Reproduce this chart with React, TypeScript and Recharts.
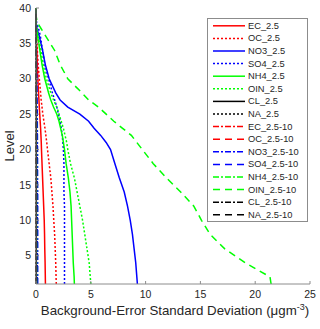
import { LineChart, Line, XAxis, YAxis, Legend } from 'recharts'

// model levels (y) and background-error std dev per species (x, µg m^-3)
const LEVELS = [1, 2, 4, 6, 8, 10, 12, 14, 16, 18, 20, 21, 22, 23, 24, 25, 26, 27, 28, 30, 32, 34, 36, 37, 38, 39, 40]

const EC_25 = [0.86, 0.85, 0.83, 0.8, 0.78, 0.75, 0.7, 0.65, 0.6, 0.55, 0.5, 0.48, 0.45, 0.42, 0.38, 0.34, 0.3, 0.27, 0.23, 0.17, 0.12, 0.08, 0.03, 0, 0, 0, 0]
const OC_25 = [1.85, 1.83, 1.8, 1.75, 1.7, 1.62, 1.55, 1.45, 1.35, 1.2, 1.05, 0.98, 0.9, 0.82, 0.72, 0.62, 0.55, 0.47, 0.42, 0.3, 0.2, 0.12, 0.05, 0.02, 0, 0, 0]
const NO3_25 = [9.25, 9.2, 9.1, 8.95, 8.8, 8.6, 8.35, 8.05, 7.6, 7.2, 6.8, 6.4, 5.9, 5.3, 4.8, 4.0, 2.9, 2.2, 1.8, 1.2, 0.85, 0.6, 0.3, 0.1, 0, 0, 0]
const SO4_25 = [2.6, 2.6, 2.6, 2.6, 2.6, 2.6, 2.6, 2.55, 2.55, 2.55, 2.5, 2.45, 2.4, 2.3, 2.2, 2.05, 1.9, 1.7, 1.5, 1.15, 0.8, 0.6, 0.4, 0.25, 0.05, 0, 0]
const NH4_25 = [3.5, 3.48, 3.4, 3.35, 3.3, 3.25, 3.2, 3.1, 2.95, 2.75, 2.6, 2.5, 2.4, 2.25, 2.1, 1.9, 1.6, 1.35, 1.15, 0.8, 0.55, 0.35, 0.15, 0.05, 0, 0, 0]
const OIN_25 = [5.0, 4.95, 4.85, 4.65, 4.45, 4.25, 4.0, 3.75, 3.5, 3.15, 2.9, 2.8, 2.65, 2.5, 2.3, 2.1, 1.9, 1.6, 1.35, 0.95, 0.65, 0.45, 0.2, 0.1, 0, 0, 0]
const CL_25 = [0.03, 0.03, 0.03, 0.03, 0.03, 0.03, 0.03, 0.03, 0.03, 0.03, 0.03, 0.03, 0.03, 0.03, 0.03, 0.03, 0.02, 0.02, 0.02, 0.02, 0.02, 0.01, 0.01, 0, 0, 0, 0]
const NA_25 = [0.02, 0.02, 0.02, 0.02, 0.02, 0.02, 0.02, 0.02, 0.02, 0.02, 0.02, 0.02, 0.02, 0.02, 0.02, 0.02, 0.02, 0.01, 0.01, 0.01, 0.01, 0.01, 0, 0, 0, 0, 0]
const EC_10 = [0.02, 0.02, 0.02, 0.02, 0.02, 0.02, 0.02, 0.02, 0.02, 0.02, 0.02, 0.02, 0.02, 0.02, 0.01, 0.01, 0.01, 0.01, 0.01, 0.01, 0.01, 0, 0, 0, 0, 0, 0]
const OC_10 = [0.06, 0.06, 0.06, 0.06, 0.06, 0.06, 0.06, 0.05, 0.05, 0.05, 0.05, 0.05, 0.05, 0.04, 0.04, 0.04, 0.04, 0.03, 0.03, 0.02, 0.02, 0.01, 0.01, 0, 0, 0, 0]
const NO3_10 = [0.15, 0.15, 0.15, 0.15, 0.15, 0.15, 0.15, 0.15, 0.14, 0.14, 0.14, 0.13, 0.13, 0.12, 0.12, 0.11, 0.1, 0.09, 0.08, 0.06, 0.04, 0.03, 0.01, 0, 0, 0, 0]
const SO4_10 = [0.12, 0.12, 0.12, 0.12, 0.12, 0.12, 0.12, 0.12, 0.11, 0.11, 0.11, 0.1, 0.1, 0.1, 0.09, 0.09, 0.08, 0.07, 0.06, 0.05, 0.03, 0.02, 0.01, 0, 0, 0, 0]
const NH4_10 = [0.05, 0.05, 0.05, 0.05, 0.05, 0.05, 0.05, 0.05, 0.05, 0.05, 0.04, 0.04, 0.04, 0.04, 0.04, 0.03, 0.03, 0.03, 0.03, 0.02, 0.02, 0.01, 0.01, 0, 0, 0, 0]
const OIN_10 = [21.45, 21.35, 19.1, 17.2, 15.9, 15.1, 14.4, 13.2, 11.9, 10.7, 9.7, 9.2, 8.7, 7.9, 7.1, 6.4, 5.7, 4.8, 4.2, 2.9, 2.2, 1.7, 0.9, 0.5, 0.1, 0, 0]
const CL_10 = [0.01, 0.01, 0.01, 0.01, 0.01, 0.01, 0.01, 0.01, 0.01, 0.01, 0.01, 0.01, 0.01, 0.01, 0.01, 0.01, 0.01, 0.01, 0.01, 0, 0, 0, 0, 0, 0, 0, 0]
const NA_10 = [0.04, 0.04, 0.04, 0.04, 0.04, 0.04, 0.04, 0.04, 0.04, 0.04, 0.04, 0.03, 0.03, 0.03, 0.03, 0.03, 0.03, 0.02, 0.02, 0.02, 0.01, 0.01, 0, 0, 0, 0, 0]

const X_TICKS = [0, 5, 10, 15, 20, 25]
const Y_TICKS = [5, 10, 15, 20, 25, 30, 35, 40]

const RED = '#ff0000', BLUE = '#0000ff', GREEN = '#00ff00', BLACK = '#000000'
const DOT = '2 2', DASH = '7 5', DASHDOT = '6 2 2 2'

const SERIES = [
  { name: 'EC_2.5', values: EC_25, color: RED, dash: undefined },
  { name: 'OC_2.5', values: OC_25, color: RED, dash: DOT },
  { name: 'NO3_2.5', values: NO3_25, color: BLUE, dash: undefined },
  { name: 'SO4_2.5', values: SO4_25, color: BLUE, dash: DOT },
  { name: 'NH4_2.5', values: NH4_25, color: GREEN, dash: undefined },
  { name: 'OIN_2.5', values: OIN_25, color: GREEN, dash: DOT },
  { name: 'CL_2.5', values: CL_25, color: BLACK, dash: undefined },
  { name: 'NA_2.5', values: NA_25, color: BLACK, dash: DOT },
  { name: 'EC_2.5-10', values: EC_10, color: RED, dash: DASHDOT },
  { name: 'OC_2.5-10', values: OC_10, color: RED, dash: DASH },
  { name: 'NO3_2.5-10', values: NO3_10, color: BLUE, dash: DASHDOT },
  { name: 'SO4_2.5-10', values: SO4_10, color: BLUE, dash: DASH },
  { name: 'NH4_2.5-10', values: NH4_10, color: GREEN, dash: DASHDOT },
  { name: 'OIN_2.5-10', values: OIN_10, color: GREEN, dash: DASH },
  { name: 'CL_2.5-10', values: CL_10, color: BLACK, dash: DASHDOT },
  { name: 'NA_2.5-10', values: NA_10, color: BLACK, dash: DASH },
]

const FONT = '"Liberation Sans", Arial, sans-serif'
const AXIS = '#8c8c8c'
const TXT = '#262626'

const rows = LEVELS.map((level, i) => {
  const r: Record<string, number> = { level }
  for (const s of SERIES) r[s.name] = s.values[i]
  return r
})

function LegendBox() {
  const rowH = 12.6
  return (
    <div style={{ width: 101, height: 204, boxSizing: 'border-box', border: `1px solid ${AXIS}`, background: '#fff' }}>
      <svg width={99} height={202} style={{ display: 'block' }}>
        {SERIES.map((s, i) => {
          const y = 6.8 + i * rowH
          return (
            <g key={s.name}>
              <line x1={5} x2={37} y1={y} y2={y} stroke={s.color} strokeWidth={1.5} strokeDasharray={s.dash} />
              <text x={40} y={y} dominantBaseline="central" fontSize={9.3} fill={TXT} fontFamily={FONT}>{s.name}</text>
            </g>
          )
        })}
      </svg>
    </div>
  )
}

function XTitle({ viewBox }: any) {
  const cx = viewBox.x + viewBox.width / 2
  return (
    <text x={cx + 2} y={viewBox.y + 31} textAnchor="middle" fontSize={13.3} fill={TXT} fontFamily={FONT}>
      Background-Error Standard Deviation (μgm<tspan dy={-5} fontSize={9}>-3</tspan><tspan dy={5}>)</tspan>
    </text>
  )
}

function YTitle({ viewBox }: any) {
  const cy = viewBox.y + viewBox.height / 2
  return (
    <text x={14} y={cy} transform={`rotate(-90 14 ${cy})`} textAnchor="middle" fontSize={13} fill={TXT} fontFamily={FONT}>
      Level
    </text>
  )
}

export default function App() {
  return (
    <div style={{ position: 'absolute', left: 0, top: 0, background: '#fff' }}>
      <LineChart width={320} height={329} data={rows} layout="vertical"
        margin={{ top: 8, right: 10, bottom: 0, left: 0 }} style={{ fontFamily: FONT }}>
        <XAxis type="number" domain={[0, 25]} ticks={X_TICKS} height={45} stroke={AXIS}
          tickSize={-3} tickMargin={10} tick={{ fill: TXT, fontSize: 10.5 }} label={<XTitle />} />
        <XAxis xAxisId="top" orientation="top" type="number" domain={[0, 25]} ticks={X_TICKS} height={0}
          stroke={AXIS} tickSize={-3} tickFormatter={() => ''} />
        <YAxis type="number" dataKey="level" domain={[1, 40]} ticks={Y_TICKS} width={36} stroke={AXIS} reversed
          tickSize={-3} tickMargin={8} tick={{ fill: TXT, fontSize: 10.5 }} label={<YTitle />} />
        <YAxis yAxisId="right" orientation="right" type="number" dataKey="level" domain={[1, 40]} ticks={Y_TICKS}
          reversed width={0} stroke={AXIS} tickSize={-3} tickFormatter={() => ''} />
        {SERIES.map(s => (
          <Line key={s.name} dataKey={s.name} type="linear" stroke={s.color} strokeWidth={1.5}
            strokeDasharray={s.dash} dot={false} activeDot={false} isAnimationActive={false} />
        ))}
        <Legend layout="vertical" align="center" verticalAlign="middle" content={() => <LegendBox />}
          wrapperStyle={{ left: 207, top: 18, width: 101, height: 204 }} />
      </LineChart>
    </div>
  )
}
